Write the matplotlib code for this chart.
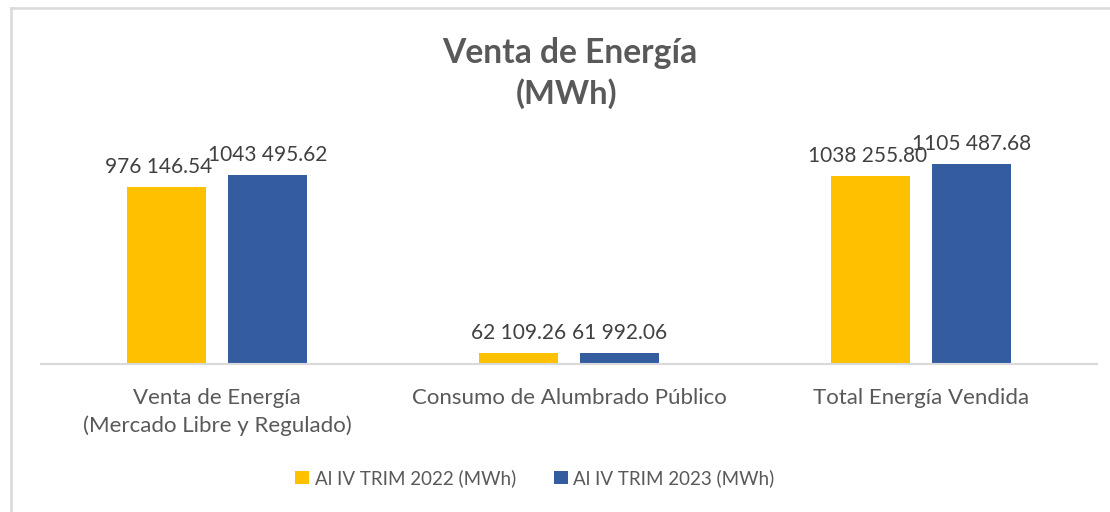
import matplotlib
matplotlib.use("Agg")
import matplotlib.pyplot as plt
from matplotlib.lines import Line2D
import numpy as np

categories = ["Venta de Energía\n(Mercado Libre y Regulado)",
              "Consumo de Alumbrado Público",
              "Total Energía Vendida"]
series_names = ["Al IV TRIM 2022 (MWh)", "Al IV TRIM 2023 (MWh)"]
values_2022 = [976146.54, 62109.26, 1038255.80]
values_2023 = [1043495.62, 61992.06, 1105487.68]
colors = ["#FFC000", "#345DA0"]

FONT = "Lato"
plt.rcParams['font.family'] = [FONT, 'DejaVu Sans']

W, H = 1110, 512
fig = plt.figure(figsize=(W / 100, H / 100), dpi=100)
fig.patch.set_facecolor("white")

# outer chart border (light gray)
fig.add_artist(Line2D([11 / W, 11 / W], [0, 1 - 8 / H], transform=fig.transFigure,
                      color="#D9D9D9", lw=1.8))
fig.add_artist(Line2D([11 / W, 1], [1 - 8 / H, 1 - 8 / H], transform=fig.transFigure,
                      color="#D9D9D9", lw=1.8))

ax_l, ax_r = 41, 1097
ax_b, ax_t = 364, 120
ax = fig.add_axes([ax_l / W, 1 - ax_b / H, (ax_r - ax_l) / W, (ax_b - ax_t) / H])
ax.set_facecolor("none")

x = np.arange(len(categories))
bw = 0.224
off = 0.143

def fmt(v):
    s = f"{v:.2f}"
    ip, dp = s.split(".")
    if len(ip) > 3:
        ip = ip[:-3] + " " + ip[-3:]
    return ip + "." + dp

# small horizontal nudges (points) that keep neighbouring labels apart
nudge_2022 = [-6, 0, -2]
nudge_2023 = [0, 0, 0]

for vals, o, c, name, nud in [(values_2022, -off, colors[0], series_names[0], nudge_2022),
                              (values_2023, off, colors[1], series_names[1], nudge_2023)]:
    ax.bar(x + o, vals, width=bw, color=c, label=name, zorder=2)
    for xi, v, n in zip(x + o, vals, nud):
        ax.annotate(fmt(v), (xi, v), xytext=(n, 7), textcoords="offset points",
                    ha="center", va="bottom", fontsize=15, color="#404040")

ax.set_xlim(-0.5, 2.5)
ax.set_ylim(0, 1.3458e6)
for s in ["top", "right", "left"]:
    ax.spines[s].set_visible(False)
ax.spines["bottom"].set_color("#D9D9D9")
ax.spines["bottom"].set_linewidth(1.5)
ax.set_yticks([])
ax.set_xticks(x)
ax.set_xticklabels(categories, fontsize=16, color="#595959", linespacing=1.45)
ax.tick_params(axis="x", length=0, pad=17)

fig.text(570 / W, 1 - 53 / H, "Venta de Energía", ha="center", va="center",
         fontsize=24.2, fontweight="bold", color="#595959")
fig.text(567 / W, 1 - 94 / H, "(MWh)", ha="center", va="center",
         fontsize=23.5, fontweight="bold", color="#595959")

leg = fig.legend(loc="center", bbox_to_anchor=(535 / W, 1 - 478 / H), ncol=2,
                 frameon=False, fontsize=13.5, handlelength=0.75, handleheight=0.75,
                 handletextpad=0.3, columnspacing=2.0)
for t in leg.get_texts():
    t.set_color("#595959")

fig.savefig("out.png", dpi=100, facecolor="white")
